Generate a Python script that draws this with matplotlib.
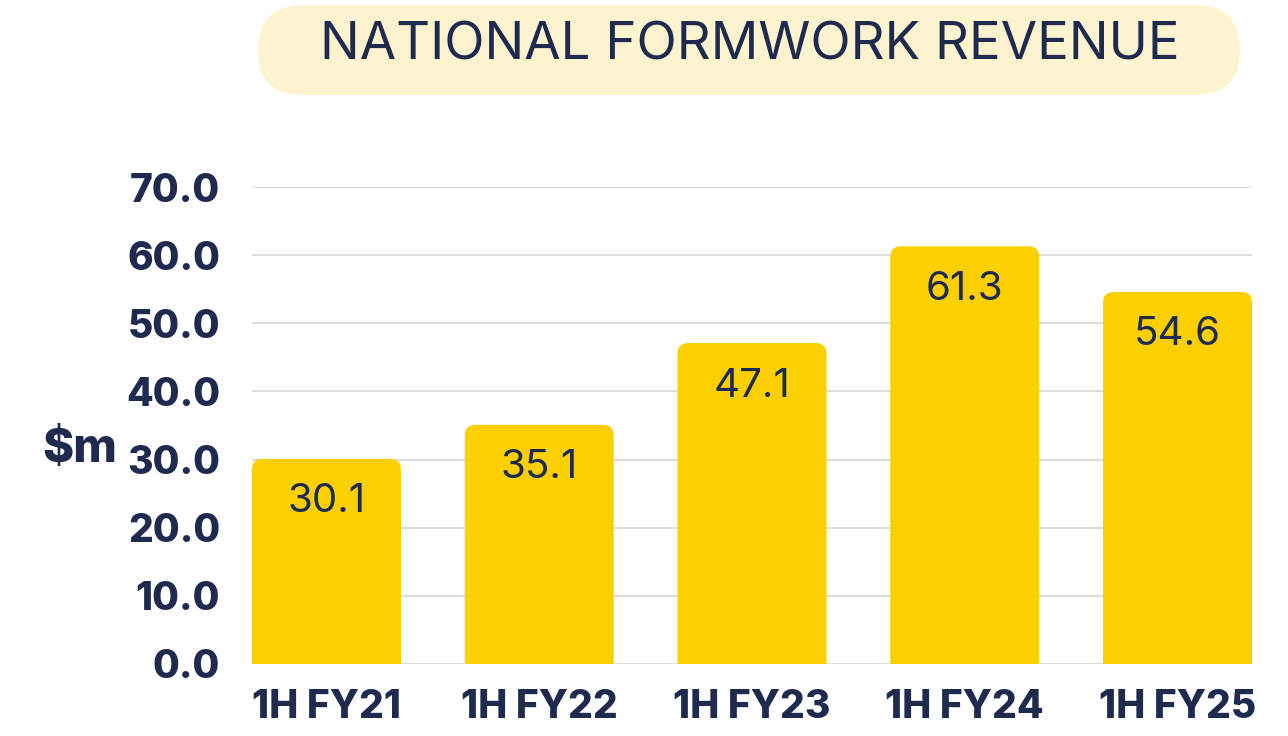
import matplotlib.pyplot as plt
from matplotlib.patches import FancyBboxPatch

# data
periods = ["1H FY21", "1H FY22", "1H FY23", "1H FY24", "1H FY25"]
revenue = [30.1, 35.1, 47.1, 61.3, 54.6]
yticks = [0, 10, 20, 30, 40, 50, 60, 70]

NAVY = "#1f2a4f"
YELLOW = "#fbcf00"
PILL = "#fdf4cf"

plt.rcParams['font.family'] = ['Inter', 'DejaVu Sans']

fig = plt.figure(figsize=(12.88, 7.36), dpi=100)
ax = fig.add_axes([252/1288, 1 - 664/736, 1000/1288, (664 - 187)/736])

# title pill
pill = FancyBboxPatch((258/1288, 1 - 95/736), 982/1288, 90/736,
                      boxstyle="round,pad=0,rounding_size=0.0349",
                      mutation_aspect=1288/736, transform=fig.transFigure,
                      facecolor=PILL, edgecolor="none")
fig.patches.append(pill)
fig.text(750/1288, 1 - 46/736, "NATIONAL FORMWORK REVENUE", ha="center", va="center",
         fontsize=38, color=NAVY, fontweight="normal")

x = list(range(len(periods)))
bars = ax.bar(x, revenue, width=0.7, color=YELLOW, zorder=2)

# swap plain bars for ones with rounded top corners (bottom hidden below 0)
xr = 0.05
for b in bars:
    bx, bw, bh = b.get_x(), b.get_width(), b.get_height()
    b.set_visible(False)
    ax.add_patch(FancyBboxPatch((bx, -5), bw, bh + 5,
                                boxstyle=f"round,pad=0,rounding_size={xr}",
                                mutation_aspect=31, facecolor=YELLOW,
                                edgecolor="none", zorder=2))

for xi, v in zip(x, revenue):
    ax.annotate(f"{v}", (xi, v), xytext=(0, -43), textcoords="offset pixels",
                ha="center", va="center", fontsize=29, color=NAVY,
                fontweight="normal", zorder=3)

ax.set_xlim(-0.35, len(periods) - 0.65)
ax.set_ylim(0, 70)
ax.set_yticks(yticks)
ax.set_yticklabels([f"{t:.1f}" for t in yticks], fontsize=28, fontweight="heavy", color=NAVY)
ax.set_xticks(x)
ax.set_xticklabels(periods, fontsize=28, fontweight="heavy", color=NAVY)
ax.tick_params(axis="y", length=0, pad=23)
ax.tick_params(axis="x", length=0, pad=18)
ax.yaxis.grid(True, color="#d9d9d9", linewidth=1.3, zorder=0)
ax.set_axisbelow(True)
for s in ax.spines.values():
    s.set_visible(False)

fig.text(80/1288, 1 - 450/736, "$m", ha="center", va="center", fontsize=34,
         fontweight="heavy", color=NAVY)

fig.savefig("out.png", dpi=100, facecolor="white")
